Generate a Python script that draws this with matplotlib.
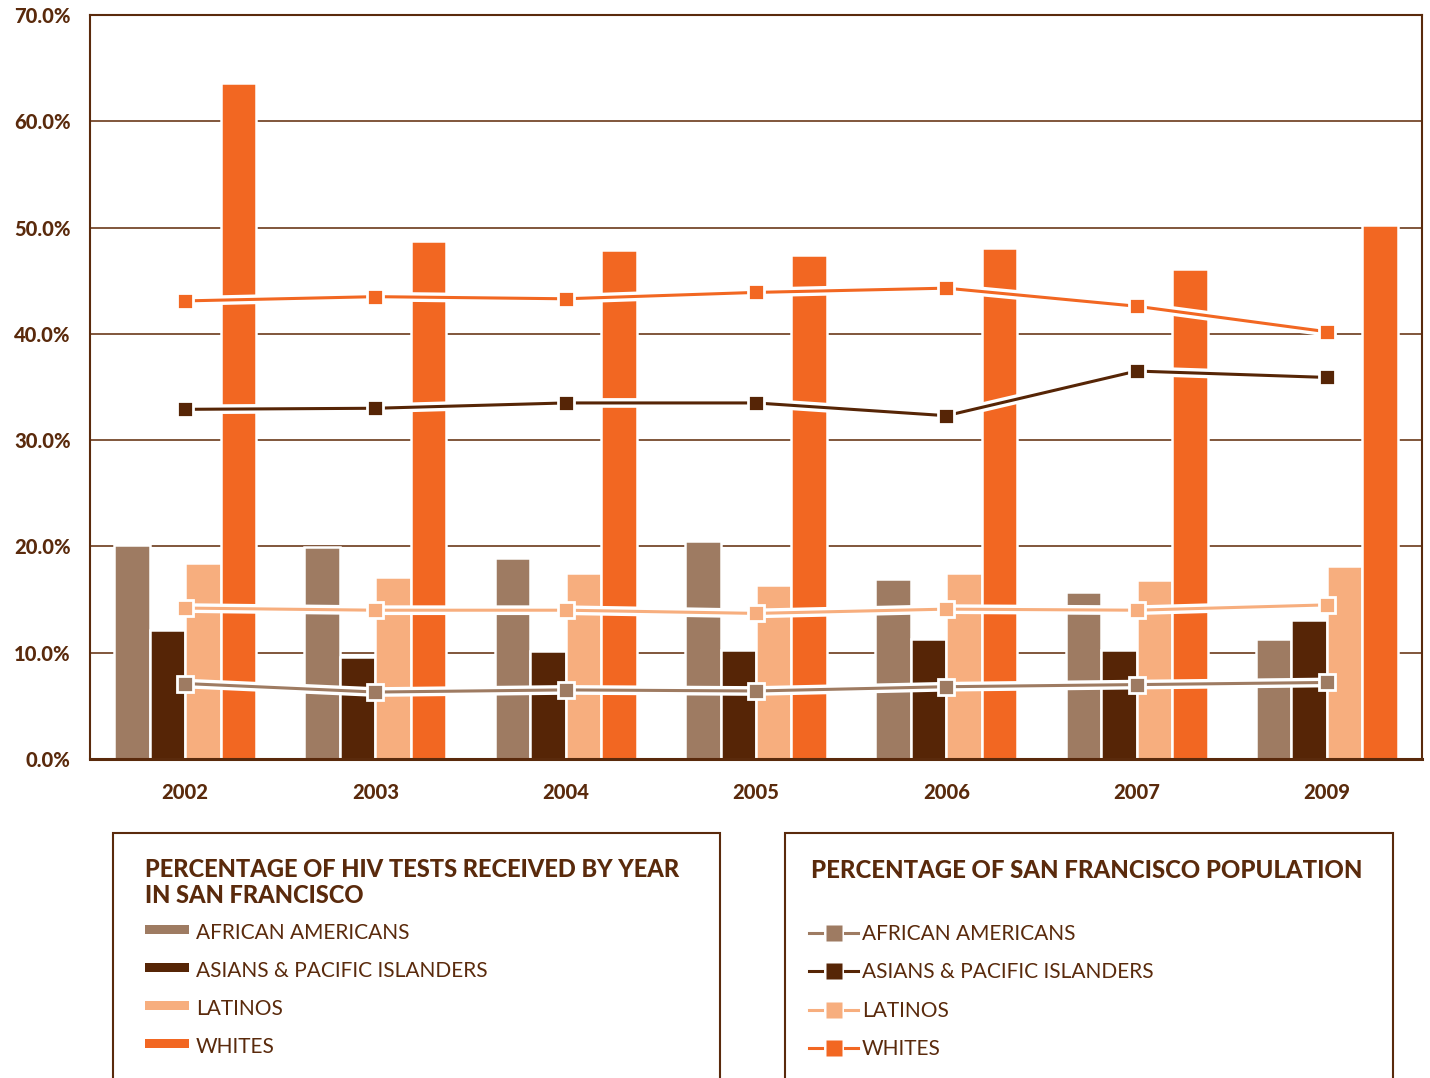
import numpy as np
import matplotlib
matplotlib.use("Agg")
import matplotlib.pyplot as plt
import matplotlib.patheffects as pe
from matplotlib.patches import Rectangle
from matplotlib.lines import Line2D

plt.rcParams['font.family'] = ['Lato', 'DejaVu Sans']

# Data
years = ['2002', '2003', '2004', '2005', '2006', '2007', '2009']
groups = ['AFRICAN AMERICANS', 'ASIANS & PACIFIC ISLANDERS', 'LATINOS', 'WHITES']

# % of HIV tests received (bars)
tests_aa = [20.1, 19.9, 18.9, 20.5, 16.9, 15.7, 11.3]
tests_api = [12.1, 9.6, 10.2, 10.3, 11.3, 10.3, 13.1]
tests_lat = [18.4, 17.1, 17.5, 16.4, 17.5, 16.8, 18.2]
tests_wht = [63.6, 48.7, 47.9, 47.4, 48.1, 46.1, 50.2]

# % of SF population (lines)
pop_aa = [7.1, 6.3, 6.5, 6.4, 6.8, 7.0, 7.2]
pop_api = [32.9, 33.0, 33.5, 33.5, 32.3, 36.5, 35.9]
pop_lat = [14.2, 14.0, 14.0, 13.7, 14.1, 14.0, 14.5]
pop_wht = [43.1, 43.5, 43.3, 43.9, 44.3, 42.6, 40.2]

colors = ['#9E7B62', '#562506', '#F7AE7E', '#F26722']
brown = '#5A2A0C'

W, H = 1430, 1078
fig = plt.figure(figsize=(W / 100, H / 100), dpi=100)
ax = fig.add_axes([90 / W, 1 - 759 / H, (1422 - 90) / W, (759 - 15) / H])

x = np.arange(len(years))
bw = 0.1865
tests = [tests_aa, tests_api, tests_lat, tests_wht]
for i, (vals, c) in enumerate(zip(tests, colors)):
    ax.bar(x + (i - 1.5) * bw, vals, width=bw, color=c, edgecolor='white',
           linewidth=1.8, zorder=2)

pops = [pop_aa, pop_api, pop_lat, pop_wht]
for vals, c in zip(pops, colors):
    ax.plot(x, vals, color=c, lw=2.2, zorder=3, solid_capstyle='butt',
            path_effects=[pe.Stroke(linewidth=7, foreground='white'), pe.Normal()])
for vals, c in zip(pops, colors):
    ax.plot(x, vals, ls='none', marker='s', ms=12, mfc=c, mec='white',
            mew=2, zorder=4)

ax.set_xlim(-0.5, 6.5)
ax.set_ylim(0, 70)
ax.set_yticks(np.arange(0, 71, 10))
ax.set_yticklabels(['%.1f%%' % v for v in np.arange(0, 71, 10)])
ax.set_xticks(x)
ax.set_xticklabels(years)
ax.tick_params(axis='both', length=0, labelsize=14.5, labelcolor=brown)
ax.tick_params(axis='y', pad=14)
ax.tick_params(axis='x', pad=17)
for lab in ax.get_xticklabels() + ax.get_yticklabels():
    lab.set_fontweight('black')

ax.yaxis.grid(True, color='#6B3A1A', lw=1.2)
ax.set_axisbelow(True)
for s in ['left', 'right', 'top']:
    ax.spines[s].set_color(brown)
    ax.spines[s].set_linewidth(1.5)
ax.spines['bottom'].set_color(brown)
ax.spines['bottom'].set_linewidth(2.2)


def fx(px):
    return px / W


def fy(py):
    return 1 - py / H


# Legend boxes
for x0, x1 in [(113, 720), (785, 1393)]:
    fig.patches.append(Rectangle((fx(x0), fy(1100)), fx(x1) - fx(x0), fy(833) - fy(1100),
                                 transform=fig.transFigure, fill=False,
                                 edgecolor=brown, lw=1.5))

# Left legend: HIV tests
fig.text(fx(145), fy(877), 'PERCENTAGE OF HIV TESTS RECEIVED BY YEAR',
         fontsize=17, fontweight='black', color=brown, va='baseline')
fig.text(fx(145), fy(903), 'IN SAN FRANCISCO',
         fontsize=17, fontweight='black', color=brown, va='baseline')
rows = [939, 977, 1015, 1053]
for lbl, c, yb in zip(groups, colors, rows):
    fig.patches.append(Rectangle((fx(145), fy(yb - 5)), fx(189) - fx(145), fy(yb - 14) - fy(yb - 5),
                                 transform=fig.transFigure, facecolor=c,
                                 edgecolor='none'))
    fig.text(fx(196), fy(yb), lbl, fontsize=15, color=brown, va='baseline')

# Right legend: population
fig.text(fx(811), fy(878), 'PERCENTAGE OF SAN FRANCISCO POPULATION',
         fontsize=17.2, fontweight='black', color=brown, va='baseline')
rows2 = [940, 978, 1017, 1055]
for lbl, c, yb in zip(groups, colors, rows2):
    yc = fy(yb - 7)
    fig.lines.append(Line2D([fx(809), fx(822)], [yc, yc], color=c, lw=2.2,
                            transform=fig.transFigure))
    fig.lines.append(Line2D([fx(845), fx(858)], [yc, yc], color=c, lw=2.2,
                            transform=fig.transFigure))
    fig.lines.append(Line2D([fx(833.5)], [yc], marker='s', ms=11, mfc=c,
                            mec='none', transform=fig.transFigure))
    fig.text(fx(862), fy(yb), lbl, fontsize=15, color=brown, va='baseline')

fig.savefig('out.png', dpi=100)
